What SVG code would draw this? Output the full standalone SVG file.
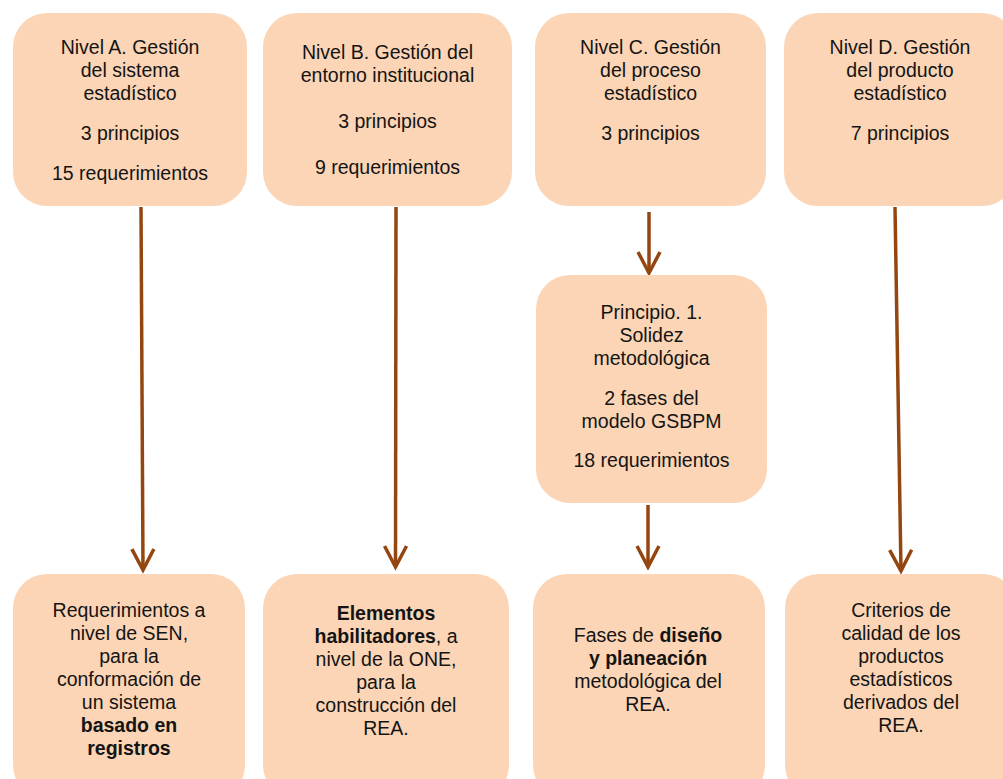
<svg xmlns="http://www.w3.org/2000/svg" width="1003" height="779" viewBox="0 0 1003 779">
<style>
.box{fill:#FBD5B5;stroke:none}
.t{font-family:"Liberation Sans",Arial,sans-serif;font-size:19.5px;fill:#141414;text-anchor:middle}
.b{font-weight:bold}
.c{stroke:#944611;stroke-width:3.5;fill:none}
</style>
<defs>
<marker id="arr" markerUnits="userSpaceOnUse" markerWidth="32" markerHeight="32" viewBox="-26 -16 32 32" refX="0" refY="0" orient="auto">
<path d="M-21,-11 L0,0 L-21,11" fill="none" stroke="#944611" stroke-width="3.5"/>
</marker>
</defs>
<rect width="1003" height="779" fill="#ffffff"/>
<g id="connectors">
<line class="c" x1="141" y1="207" x2="143" y2="570" marker-end="url(#arr)"/>
<line class="c" x1="396" y1="207" x2="395.5" y2="567" marker-end="url(#arr)"/>
<line class="c" x1="649" y1="212" x2="649" y2="273" marker-end="url(#arr)"/>
<line class="c" x1="648" y1="505" x2="648" y2="567" marker-end="url(#arr)"/>
<line class="c" x1="895" y1="207" x2="901" y2="571" marker-end="url(#arr)"/>
</g>
<g id="nodeA">
<rect class="box" x="13" y="13" width="234" height="193" rx="34"/>
<text class="t"><tspan x="130" y="54">Nivel A. Gestión</tspan><tspan x="130" y="77">del sistema</tspan><tspan x="130" y="100">estadístico</tspan><tspan x="130" y="140">3 principios</tspan><tspan x="130" y="180">15 requerimientos</tspan></text>
</g>
<g id="nodeB">
<rect class="box" x="263" y="13" width="249" height="193" rx="34"/>
<text class="t"><tspan x="387.5" y="59">Nivel B. Gestión del</tspan><tspan x="387.5" y="82">entorno institucional</tspan><tspan x="387.5" y="128">3 principios</tspan><tspan x="387.5" y="174">9 requerimientos</tspan></text>
</g>
<g id="nodeC">
<rect class="box" x="535" y="13" width="231" height="193" rx="34"/>
<text class="t"><tspan x="650.5" y="54">Nivel C. Gestión</tspan><tspan x="650.5" y="77">del proceso</tspan><tspan x="650.5" y="100">estadístico</tspan><tspan x="650.5" y="140">3 principios</tspan></text>
</g>
<g id="nodeD">
<rect class="box" x="784" y="13" width="232" height="193" rx="34"/>
<text class="t"><tspan x="900" y="54">Nivel D. Gestión</tspan><tspan x="900" y="77">del producto</tspan><tspan x="900" y="100">estadístico</tspan><tspan x="900" y="140">7 principios</tspan></text>
</g>
<g id="nodeP1">
<rect class="box" x="536" y="275" width="231" height="228" rx="34"/>
<text class="t"><tspan x="651.5" y="319">Principio. 1.</tspan><tspan x="651.5" y="342">Solidez</tspan><tspan x="651.5" y="365">metodológica</tspan><tspan x="651.5" y="405">2 fases del</tspan><tspan x="651.5" y="428">modelo GSBPM</tspan><tspan x="651.5" y="467">18 requerimientos</tspan></text>
</g>
<g id="nodeA2">
<rect class="box" x="13" y="574" width="232" height="225" rx="34"/>
<text class="t"><tspan x="129" y="617">Requerimientos a</tspan><tspan x="129" y="640">nivel de SEN,</tspan><tspan x="129" y="663">para la</tspan><tspan x="129" y="686">conformación de</tspan><tspan x="129" y="709">un sistema</tspan><tspan x="129" y="732" class="b">basado en</tspan><tspan x="129" y="755" class="b">registros</tspan></text>
</g>
<g id="nodeB2">
<rect class="box" x="263" y="574" width="246" height="225" rx="34"/>
<text class="t"><tspan x="386" y="620" class="b">Elementos</tspan></text>
<text class="t" x="386" y="643"><tspan class="b">habilitadores</tspan>, a</text>
<text class="t"><tspan x="386" y="666">nivel de la ONE,</tspan><tspan x="386" y="689">para la</tspan><tspan x="386" y="712">construcción del</tspan><tspan x="386" y="735">REA.</tspan></text>
</g>
<g id="nodeC2">
<rect class="box" x="533" y="574" width="232" height="225" rx="34"/>
<text class="t" x="648" y="642">Fases de <tspan class="b">diseño</tspan></text>
<text class="t"><tspan x="648" y="665" class="b">y planeación</tspan><tspan x="648" y="688">metodológica del</tspan><tspan x="648" y="711">REA.</tspan></text>
</g>
<g id="nodeD2">
<rect class="box" x="785" y="574" width="232" height="225" rx="34"/>
<text class="t"><tspan x="901" y="617">Criterios de</tspan><tspan x="901" y="640">calidad de los</tspan><tspan x="901" y="663">productos</tspan><tspan x="901" y="686">estadísticos</tspan><tspan x="901" y="709">derivados del</tspan><tspan x="901" y="732">REA.</tspan></text>
</g>
</svg>
